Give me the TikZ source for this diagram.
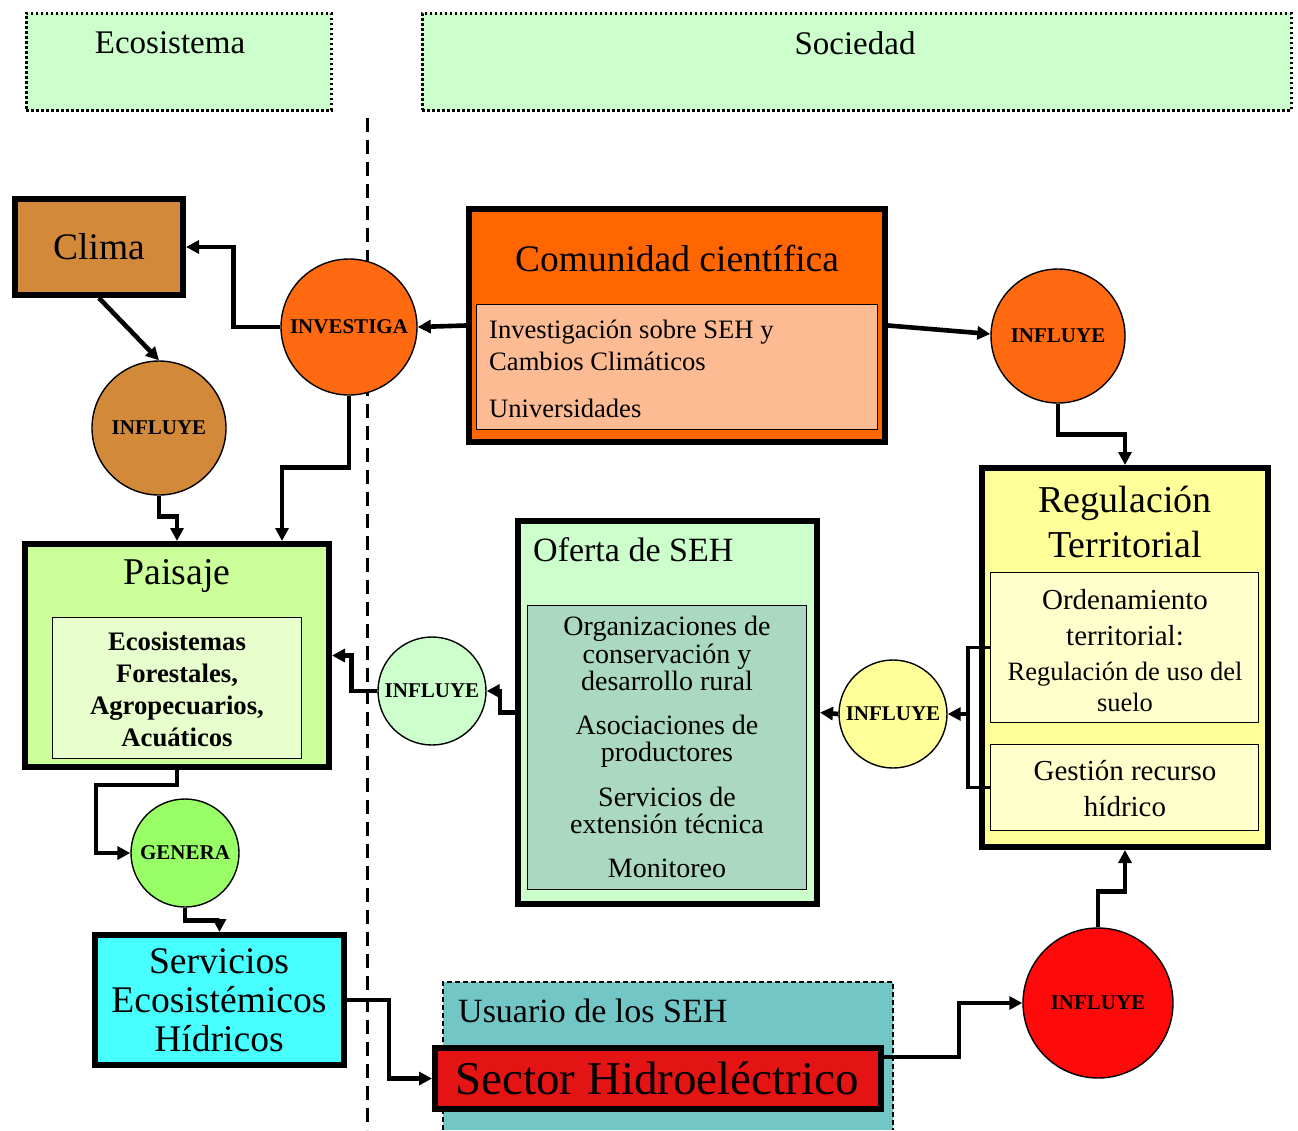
\documentclass[tikz,border=0pt]{standalone}
\usepackage{fontspec}
\setmainfont{Liberation Serif}
\usetikzlibrary{arrows.meta,calc}

\definecolor{hdrgreen}{RGB}{204,255,204}
\definecolor{climabrown}{RGB}{211,137,58}
\definecolor{invorange}{RGB}{255,106,16}
\definecolor{comorange}{RGB}{255,102,0}
\definecolor{peach}{RGB}{253,187,147}
\definecolor{paisgreen}{RGB}{204,255,153}
\definecolor{paisinner}{RGB}{230,255,204}
\definecolor{genera}{RGB}{153,255,102}
\definecolor{cyanbox}{RGB}{72,255,255}
\definecolor{usuario}{RGB}{115,198,198}
\definecolor{sectorred}{RGB}{229,20,20}
\definecolor{infred}{RGB}{255,10,10}
\definecolor{regyellow}{RGB}{255,255,153}
\definecolor{reginner}{RGB}{255,255,204}
\definecolor{ofeinner}{RGB}{170,216,192}

\tikzset{
  box/.style={draw, line width=6pt, inner sep=0pt, anchor=north west},
  inbox/.style={draw, line width=1.3pt, inner sep=0pt, anchor=north west},
  hdr/.style={draw, fill=hdrgreen, line width=2.8pt, dash pattern=on 2.6pt off 2.4pt, inner sep=0pt, anchor=north west},
  circ/.style={circle, draw, line width=1.4pt, inner sep=0pt,
    font=\bfseries\fontsize{21}{21}\selectfont},
  txt/.style={inner sep=0pt, align=center},
  conn/.style={line width=4.6pt, -{Triangle[length=13pt,width=13pt]}},
}

\begin{document}
\begin{tikzpicture}[x=1pt,y=-1pt]
\useasboundingbox (0,0) rectangle (1298,1130);

% header panels
\node[hdr, minimum width=305, minimum height=97] (ecohdr) at (25,12) {};
\node[txt, font=\fontsize{33}{33}\selectfont] (ecotxt) at (170,43) {Ecosistema};
\node[hdr, minimum width=869, minimum height=97] (sochdr) at (421,12) {};
\node[txt, font=\fontsize{33}{33}\selectfont] (soctxt) at (855,43) {Sociedad};

% divider between ecosystem and society
\coordinate (divtop) at (367,118);
\coordinate (divbot) at (367,1130);
\draw[line width=3pt, dash pattern=on 14pt off 8pt] (divtop) -- (divbot);

% user panel (runs off the bottom edge)
\fill[usuario] (443,982) rectangle (893,1130);
\draw[line width=1.2pt, dash pattern=on 5pt off 3pt] (443,1130) -- (443,982) -- (893,982) -- (893,1130);
\node[txt, anchor=west, font=\fontsize{34}{34}\selectfont] (usutxt) at (458,1011) {Usuario de los SEH};

% Clima
\node[box, fill=climabrown, minimum width=168, minimum height=96] (clima) at (12,196) {};
\node[txt, font=\fontsize{37.5}{37.5}\selectfont] (climatxt) at (99,247) {Clima};

% Comunidad cientifica
\node[box, fill=comorange, minimum width=416, minimum height=233] (com) at (466,206) {};
\node[txt, font=\fontsize{37.5}{37.5}\selectfont] (comtxt) at (677,258) {Comunidad científica};
\node[inbox, fill=peach, minimum width=401, minimum height=125] (cominner) at (476,304) {};
\node[txt, align=left, anchor=west, font=\fontsize{26.6}{32}\selectfont] (cominnertxt) at (489,368.5)
  {Investigación sobre SEH y\\Cambios Climáticos\\[15pt]Universidades};

% Regulacion territorial
\node[box, fill=regyellow, minimum width=286, minimum height=379] (reg) at (979,465) {};
\node[txt, font=\fontsize{38}{45}\selectfont] (regtxt) at (1125,522) {Regulación\\Territorial};
\node[inbox, fill=reginner, minimum width=268, minimum height=150] (ord) at (990,572) {};
\node[txt, font=\fontsize{29}{36}\selectfont] (ordtxt) at (1125,618) {Ordenamiento\\territorial:};
\node[txt, font=\fontsize{26.5}{31}\selectfont] (usotxt) at (1125,687) {Regulación de uso del\\suelo};
\node[inbox, fill=reginner, minimum width=268, minimum height=86] (ges) at (990,744) {};
\node[txt, font=\fontsize{29}{36}\selectfont] (gestxt) at (1125,789) {Gestión recurso\\hídrico};

% Oferta de SEH
\node[box, fill=hdrgreen, minimum width=299, minimum height=383] (ofe) at (515,518) {};
\node[txt, anchor=west, font=\fontsize{34}{34}\selectfont] (ofetxt) at (533,550) {Oferta de SEH};
\node[inbox, fill=ofeinner, minimum width=279, minimum height=284] (ofeinner) at (527,605) {};
\node[txt, font=\fontsize{28}{27.5}\selectfont] (ofeinnertxt) at (667,747)
  {Organizaciones de\\conservación y\\desarrollo rural\\[16pt]Asociaciones de\\productores\\[17pt]Servicios de\\extensión técnica\\[16pt]Monitoreo};

% Paisaje
\node[box, fill=paisgreen, minimum width=304, minimum height=223] (pai) at (22,541) {};
\node[txt, font=\fontsize{37.8}{37.8}\selectfont] (paitxt) at (177,576) {Paisaje};
\node[inbox, fill=paisinner, minimum width=249, minimum height=141] (paiinner) at (52,617) {};
\node[txt, font=\bfseries\fontsize{26.7}{32}\selectfont] (paiinnertxt) at (177,689)
  {Ecosistemas\\Forestales,\\Agropecuarios,\\Acuáticos};

% Servicios ecosistemicos hidricos
\node[box, fill=cyanbox, minimum width=249, minimum height=130] (ser) at (92,932) {};
\node[txt, font=\fontsize{37.6}{39}\selectfont] (sertxt) at (219,1000) {Servicios\\Ecosistémicos\\Hídricos};

% Sector hidroelectrico
\node[box, fill=sectorred, minimum width=446, minimum height=61] (sec) at (432,1045) {};
\node[txt, font=\fontsize{47}{47}\selectfont] (sectxt) at (657,1078) {Sector Hidroeléctrico};

% action circles
\node[circ, fill=invorange, minimum size=136] (inv) at (349,327) {INVESTIGA};
\node[circ, fill=climabrown, minimum size=134] (infc) at (159,428) {INFLUYE};
\node[circ, fill=invorange, minimum size=134] (info) at (1058,336) {INFLUYE};
\node[circ, fill=regyellow, minimum size=108] (infy) at (893,714) {INFLUYE};
\node[circ, fill=hdrgreen, minimum size=108] (infg) at (432,691) {INFLUYE};
\node[circ, fill=genera, minimum size=108] (gen) at (185,853) {GENERA};
\node[circ, fill=infred, minimum size=150] (infr) at (1098,1003) {INFLUYE};

% connectors
\draw[conn] (com.west) -- (inv.east);
\draw[conn] (inv.west) -- ++(-47,0) |- (clima.east);
\draw[conn] (clima.south) -- (infc.north);
\draw[conn] (infc.south) -- ++(0,21) -| (pai.north);
\draw[conn] (inv.south) -- ++(0,72) -| ([xshift=-50pt]pai.north east);
\draw[conn] (com.east) -- ([yshift=2pt]info.west);
\draw[conn] (info.south) -- ++(0,31) -| (reg.north);
\coordinate (brk) at ($(ord.west)+(-22,0)$);
\draw[line width=3.2pt] (ord.west) -- (brk) |- (ges.west);
\draw[conn] (brk |- infy.east) -- (infy.east);
\draw[conn] (infy.west) -- (ofe.east);
\draw[conn] (ofe.west) -- ++(-15,0) |- (infg.east);
\draw[conn] (infg.west) -- ++(-26,0) |- (pai.east);
\draw[conn] (pai.south) -- ++(0,15) -- ++(-81,0) |- (gen.west);
\draw[conn] (gen.south) -- ++(0,13) -| (ser.north);
\draw[conn] (ser.east) -- ++(42,0) |- (sec.west);
\draw[conn] ([yshift=21.5pt]sec.east) -- ++(75,0) |- (infr.west);
\draw[conn] (infr.north) -- ++(0,-36) -| (reg.south);
\end{tikzpicture}
\end{document}
